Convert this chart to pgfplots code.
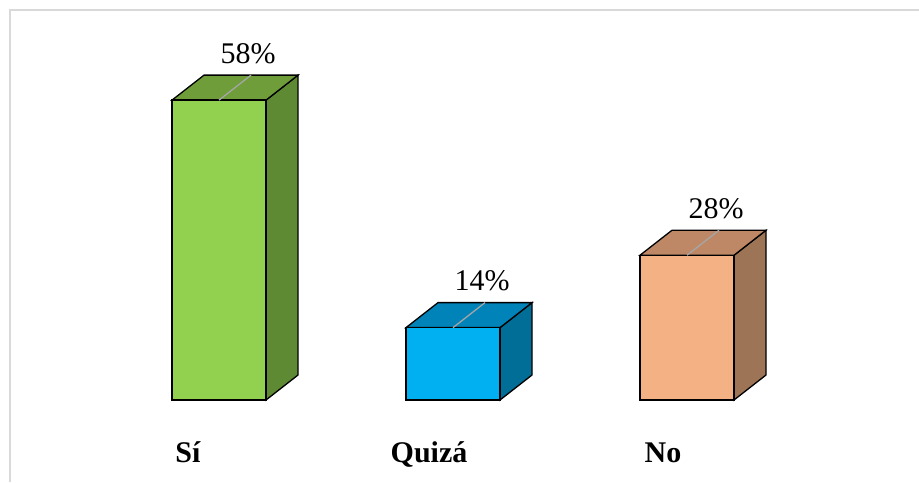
\documentclass[border=0pt]{standalone}
\usepackage{pgfplots}
\pgfplotsset{compat=1.18}
\usepackage{fontspec}
\setmainfont{Liberation Serif}
\definecolor{gF}{HTML}{92D050}\definecolor{gT}{HTML}{6E9D3A}\definecolor{gS}{HTML}{5D8A32}
\definecolor{bF}{HTML}{00B0F0}\definecolor{bT}{HTML}{0083B8}\definecolor{bS}{HTML}{006E96}
\definecolor{pF}{HTML}{F4B183}\definecolor{pT}{HTML}{BE8866}\definecolor{pS}{HTML}{9E7456}
\definecolor{frame}{HTML}{D9D9D9}
\begin{document}
\begin{tikzpicture}
\begin{axis}[
  scale only axis, width=919pt, height=482pt,
  xmin=-0.9359, xmax=2.9915, ymin=-15.86, ymax=77.37,
  axis line style={draw=none}, tick style={draw=none},
  /pgf/number format/assume math mode=true,
  ytick=\empty, xtick={0,1,2}, xticklabels={Sí\hspace*{14pt},Quizá,No},
  xticklabel style={anchor=base, yshift=20pt, xshift=-24pt, font=\fontsize{30}{35}\selectfont\bfseries},
  clip=false,
]
\draw[frame, line width=2pt] (rel axis cs:0.01088,0) -- (rel axis cs:0.01088,0.9793) -- (rel axis cs:1,0.9793);
% side faces
\addplot[fill=gS, draw=black, line width=1.3pt] coordinates {(0.2009,0) (0.3377,4.836) (0.3377,62.836) (0.2009,58)} -- cycle;
\addplot[fill=bS, draw=black, line width=1.3pt] coordinates {(1.2009,0) (1.3377,4.836) (1.3377,18.836) (1.2009,14)} -- cycle;
\addplot[fill=pS, draw=black, line width=1.3pt] coordinates {(2.2009,0) (2.3377,4.836) (2.3377,32.836) (2.2009,28)} -- cycle;
% top faces
\addplot[fill=gT, draw=black, line width=1.3pt] coordinates {(-0.2009,58) (-0.0641,62.836) (0.3377,62.836) (0.2009,58)} -- cycle;
\addplot[fill=bT, draw=black, line width=1.3pt] coordinates {(0.7991,14) (0.9359,18.836) (1.3377,18.836) (1.2009,14)} -- cycle;
\addplot[fill=pT, draw=black, line width=1.3pt] coordinates {(1.7991,28) (1.9359,32.836) (2.3377,32.836) (2.2009,28)} -- cycle;
% front faces
\addplot[ybar, bar width=94pt, bar shift=0pt, draw=black, line width=1.3pt,
  fill=gF, nodes near coords={\pgfmathprintnumber{\pgfplotspointmeta}\%},
  every node near coord/.append style={anchor=base, xshift=29pt, yshift=37pt, font=\fontsize{30}{35}\selectfont, text=black}]
  coordinates {(0,58)};
\addplot[ybar, bar width=94pt, bar shift=0pt, draw=black, line width=1.3pt,
  fill=bF, nodes near coords={\pgfmathprintnumber{\pgfplotspointmeta}\%},
  every node near coord/.append style={anchor=base, xshift=29pt, yshift=37pt, font=\fontsize{30}{35}\selectfont, text=black}]
  coordinates {(1,14)};
\addplot[ybar, bar width=94pt, bar shift=0pt, draw=black, line width=1.3pt,
  fill=pF, nodes near coords={\pgfmathprintnumber{\pgfplotspointmeta}\%},
  every node near coord/.append style={anchor=base, xshift=29pt, yshift=37pt, font=\fontsize{30}{35}\selectfont, text=black}]
  coordinates {(2,28)};
% leader lines
\addplot[draw=black!35, line width=1.3pt] coordinates {(0,58) (0.1368,62.836)};
\addplot[draw=black!35, line width=1.3pt] coordinates {(1,14) (1.1368,18.836)};
\addplot[draw=black!35, line width=1.3pt] coordinates {(2,28) (2.1368,32.836)};
\end{axis}
\pgfresetboundingbox
\path (current axis.south west) rectangle (current axis.north east);
\end{tikzpicture}
\end{document}
